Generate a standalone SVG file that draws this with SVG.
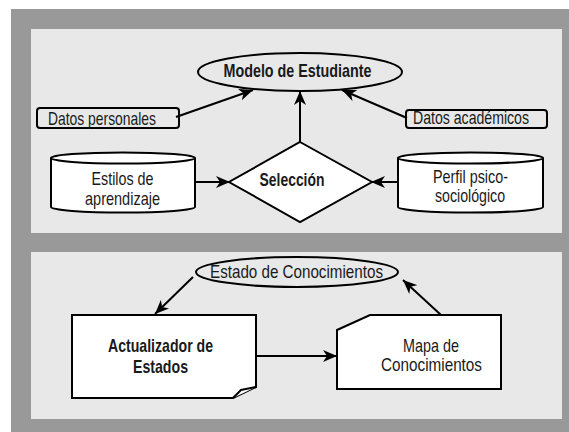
<svg xmlns="http://www.w3.org/2000/svg" width="569" height="432" viewBox="0 0 569 432">
<defs>
<style>
.panel{fill:#e8e8e8}
.sh{stroke:#000;stroke-width:2;fill:#fff}
.sh0{stroke:#000;stroke-width:2;fill:none}
.t{font-family:"Liberation Sans Narrow","Liberation Sans",Arial,sans-serif;font-size:18.5px;fill:#1a1a1a}
.b{font-weight:bold}
.c{stroke:#000;stroke-width:2;fill:none;marker-end:url(#ah)}
</style>
<marker id="ah" markerUnits="userSpaceOnUse" markerWidth="15" markerHeight="12" refX="14" refY="6" orient="auto">
<path d="M0,0 L14,6 L0,12 L4,6 Z" fill="#000"/>
</marker>
</defs>
<rect x="0" y="0" width="569" height="432" fill="#fff"/>
<rect x="11" y="9" width="558" height="423" fill="#999"/>
<rect class="panel" x="31" y="29" width="531" height="204"/>
<rect class="panel" x="31" y="252" width="531" height="167"/>

<g id="connectors">
<line class="c" x1="176" y1="117" x2="253" y2="90"/>
<line class="c" x1="300" y1="142" x2="300" y2="91"/>
<line class="c" x1="407" y1="118" x2="342" y2="90"/>
<line class="c" x1="195" y1="182" x2="230" y2="182"/>
<line class="c" x1="398" y1="182" x2="371" y2="182"/>
<line class="c" x1="193" y1="277" x2="155" y2="314"/>
<line class="c" x1="441" y1="315" x2="403" y2="280"/>
<line class="c" x1="256" y1="356" x2="337" y2="356"/>
</g>

<g id="modelo">
<ellipse class="sh0" cx="300" cy="72" rx="102" ry="19"/>
<text class="t b" x="297.5" y="77" text-anchor="middle" textLength="148" lengthAdjust="spacingAndGlyphs">Modelo de Estudiante</text>
</g>

<g id="datos-personales">
<rect class="sh0" x="37" y="108" width="142" height="20" rx="3"/>
<text class="t" x="48" y="124.5" textLength="108" lengthAdjust="spacingAndGlyphs">Datos personales</text>
</g>

<g id="datos-academicos">
<rect class="sh0" x="406" y="110" width="141" height="18" rx="3"/>
<text class="t" x="413" y="124" textLength="116" lengthAdjust="spacingAndGlyphs">Datos académicos</text>
</g>

<g id="seleccion">
<polygon class="sh" points="300,142 372,182 300,222 229,182"/>
<text class="t b" x="292" y="186" text-anchor="middle" textLength="65" lengthAdjust="spacingAndGlyphs">Selección</text>
</g>

<g id="estilos">
<path class="sh" d="M51,158 A72,5.5 0 0 1 195,158 V207 A72,5.5 0 0 1 51,207 Z"/>
<path class="sh0" d="M51,158 A72,5.5 0 0 0 195,158"/>
<text class="t" x="122.5" y="185" text-anchor="middle" textLength="62" lengthAdjust="spacingAndGlyphs">Estilos de</text>
<text class="t" x="122.5" y="204.5" text-anchor="middle" textLength="75" lengthAdjust="spacingAndGlyphs">aprendizaje</text>
</g>

<g id="perfil">
<path class="sh" d="M398,158 A72.5,5.5 0 0 1 543,158 V207 A72.5,5.5 0 0 1 398,207 Z"/>
<path class="sh0" d="M398,158 A72.5,5.5 0 0 0 543,158"/>
<text class="t" x="470.5" y="183" text-anchor="middle" textLength="75" lengthAdjust="spacingAndGlyphs">Perfil psico-</text>
<text class="t" x="470" y="202" text-anchor="middle" textLength="70" lengthAdjust="spacingAndGlyphs">sociológico</text>
</g>

<g id="estado">
<ellipse class="sh0" cx="297" cy="272" rx="101" ry="15"/>
<text class="t" x="296.5" y="277.5" text-anchor="middle" textLength="173" lengthAdjust="spacingAndGlyphs">Estado de Conocimientos</text>
</g>

<g id="actualizador">
<path class="sh" d="M72,315 H256 V387 L233,398 H72 Z"/>
<path class="sh" d="M256,387 L241,390 L233,398"/>
<text class="t b" x="160.5" y="352" text-anchor="middle" textLength="105" lengthAdjust="spacingAndGlyphs">Actualizador de</text>
<text class="t b" x="160.5" y="373" text-anchor="middle" textLength="55" lengthAdjust="spacingAndGlyphs">Estados</text>
</g>

<g id="mapa">
<path class="sh" d="M370,315 H501 V389 H337 V330 Z"/>
<text class="t" x="431" y="351.5" text-anchor="middle" textLength="56" lengthAdjust="spacingAndGlyphs">Mapa de</text>
<text class="t" x="431.5" y="371" text-anchor="middle" textLength="101" lengthAdjust="spacingAndGlyphs">Conocimientos</text>
</g>
</svg>
